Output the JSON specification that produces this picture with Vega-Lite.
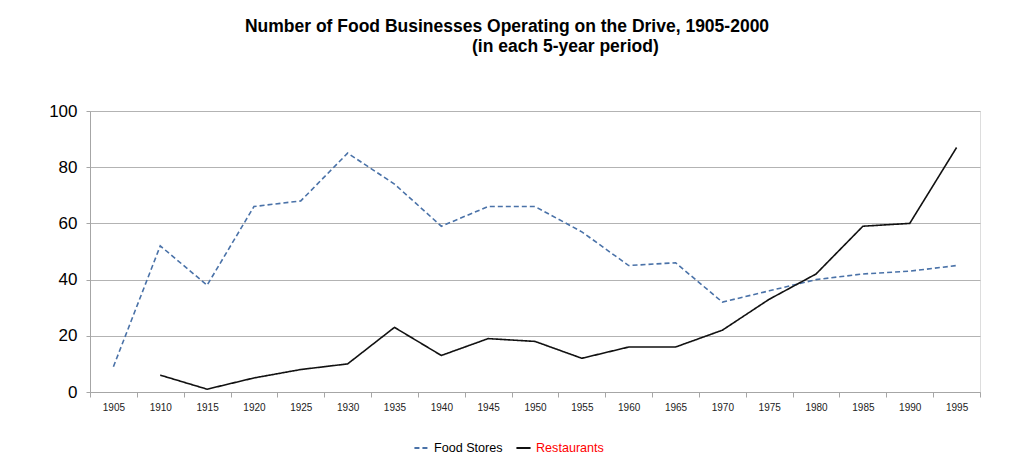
{
  "$schema": "https://vega.github.io/schema/vega-lite/v6.json",
  "width": 890,
  "height": 281,
  "autosize": {"type": "none"},
  "padding": {"left": 90, "top": 111, "right": 31, "bottom": 66},
  "background": "white",
  "title": {
    "text": ["Number of Food Businesses Operating on the Drive, 1905-2000", "\u200b\u00a0\u00a0\u00a0\u00a0\u00a0\u00a0\u00a0\u00a0\u00a0\u00a0\u00a0\u00a0\u00a0\u00a0\u00a0\u00a0\u00a0\u00a0\u00a0\u00a0\u00a0\u00a0\u00a0\u00a0(in each 5-year period)"],
    "font": "Liberation Sans",
    "fontSize": 17.5,
    "fontWeight": "bold",
    "color": "black",
    "anchor": "middle",
    "frame": "group",
    "dx": -28,
    "offset": 47,
    "lineHeight": 19.5
  },
  "data": {
    "values": [
      {"year": "1905", "series": "Food Stores", "count": 9},
      {"year": "1910", "series": "Food Stores", "count": 52},
      {"year": "1915", "series": "Food Stores", "count": 38},
      {"year": "1920", "series": "Food Stores", "count": 66},
      {"year": "1925", "series": "Food Stores", "count": 68},
      {"year": "1930", "series": "Food Stores", "count": 85},
      {"year": "1935", "series": "Food Stores", "count": 74},
      {"year": "1940", "series": "Food Stores", "count": 59},
      {"year": "1945", "series": "Food Stores", "count": 66},
      {"year": "1950", "series": "Food Stores", "count": 66},
      {"year": "1955", "series": "Food Stores", "count": 57},
      {"year": "1960", "series": "Food Stores", "count": 45},
      {"year": "1965", "series": "Food Stores", "count": 46},
      {"year": "1970", "series": "Food Stores", "count": 32},
      {"year": "1975", "series": "Food Stores", "count": 36},
      {"year": "1980", "series": "Food Stores", "count": 40},
      {"year": "1985", "series": "Food Stores", "count": 42},
      {"year": "1990", "series": "Food Stores", "count": 43},
      {"year": "1995", "series": "Food Stores", "count": 45},
      {"year": "1910", "series": "Restaurants", "count": 6},
      {"year": "1915", "series": "Restaurants", "count": 1},
      {"year": "1920", "series": "Restaurants", "count": 5},
      {"year": "1925", "series": "Restaurants", "count": 8},
      {"year": "1930", "series": "Restaurants", "count": 10},
      {"year": "1935", "series": "Restaurants", "count": 23},
      {"year": "1940", "series": "Restaurants", "count": 13},
      {"year": "1945", "series": "Restaurants", "count": 19},
      {"year": "1950", "series": "Restaurants", "count": 18},
      {"year": "1955", "series": "Restaurants", "count": 12},
      {"year": "1960", "series": "Restaurants", "count": 16},
      {"year": "1965", "series": "Restaurants", "count": 16},
      {"year": "1970", "series": "Restaurants", "count": 22},
      {"year": "1975", "series": "Restaurants", "count": 33},
      {"year": "1980", "series": "Restaurants", "count": 42},
      {"year": "1985", "series": "Restaurants", "count": 59},
      {"year": "1990", "series": "Restaurants", "count": 60},
      {"year": "1995", "series": "Restaurants", "count": 87}
    ]
  },
  "mark": {"type": "line", "strokeWidth": 1.6},
  "encoding": {
    "x": {
      "field": "year",
      "type": "ordinal",
      "scale": {"type": "band", "paddingInner": 0, "paddingOuter": 0},
      "axis": {
        "title": null,
        "labelAngle": 0,
        "labelFont": "Liberation Sans",
        "labelFontSize": 10,
        "labelColor": "#222",
        "labelPadding": 5,
        "tickBand": "extent",
        "tickSize": 5,
        "tickColor": "#a6a6a6",
        "domainColor": "#a6a6a6",
        "grid": false
      }
    },
    "y": {
      "field": "count",
      "type": "quantitative",
      "scale": {"domain": [0, 100], "nice": false},
      "axis": {
        "title": null,
        "values": [0, 20, 40, 60, 80, 100],
        "labelFont": "Liberation Sans",
        "labelFontSize": 17,
        "labelColor": "black",
        "labelPadding": 9,
        "tickSize": 4,
        "tickColor": "#a6a6a6",
        "domainColor": "#a6a6a6",
        "gridColor": "#b3b3b3",
        "gridOpacity": 1
      }
    },
    "color": {
      "field": "series",
      "type": "nominal",
      "scale": {"domain": ["Food Stores", "Restaurants"], "range": ["#4a72a8", "#111111"]},
      "legend": {
        "title": null,
        "orient": "none",
        "legendX": 323,
        "legendY": 328,
        "padding": 0,
        "direction": "horizontal",
        "labelFont": "Liberation Sans",
        "labelFontSize": 12.6,
        "labelColor": "black",
        "symbolType": "stroke",
        "symbolSize": 200,
        "symbolStrokeWidth": 2,
        "columnPadding": 9,
        "labelOffset": 4,
        "encode": {
          "labels": {"update": {"fill": {"signal": "datum.label === 'Restaurants' ? '#ff0000' : '#000000'"}}}
        }
      }
    },
    "strokeDash": {
      "field": "series",
      "type": "nominal",
      "scale": {"domain": ["Food Stores", "Restaurants"], "range": [[5, 3], [1, 0]]},
      "legend": {
        "title": null,
        "orient": "none",
        "legendX": 323,
        "legendY": 328,
        "padding": 0,
        "direction": "horizontal",
        "labelFont": "Liberation Sans",
        "labelFontSize": 12.6,
        "symbolType": "stroke",
        "symbolSize": 200,
        "symbolStrokeWidth": 2,
        "columnPadding": 9,
        "labelOffset": 4
      }
    }
  }
}
